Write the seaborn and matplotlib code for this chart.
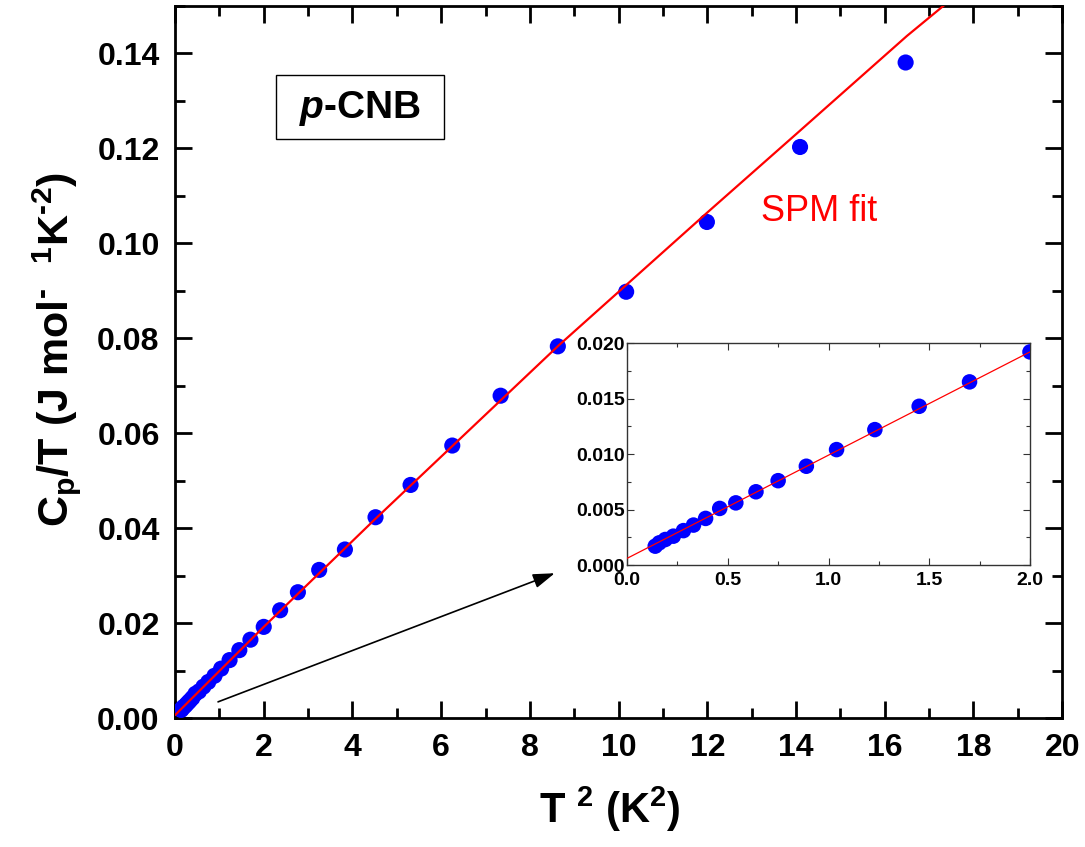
import seaborn as sns
import matplotlib
matplotlib.use("Agg")
import matplotlib.pyplot as plt
from matplotlib.ticker import MultipleLocator, FormatStrFormatter
from matplotlib.patches import Rectangle

# T^2 (K^2) and Cp/T (J mol-1 K-2)
t2 = [0.14, 0.16, 0.19, 0.23, 0.28, 0.33, 0.39, 0.46, 0.54, 0.64, 0.75, 0.89,
      1.04, 1.23, 1.45, 1.70, 2.00, 2.37, 2.77, 3.25, 3.83, 4.52, 5.31, 6.25,
      7.34, 8.63, 10.17, 11.99, 14.09, 16.47]
cp_t = [0.0017, 0.0020, 0.0023, 0.0026, 0.0031, 0.0036, 0.0042, 0.0051, 0.0056,
        0.0066, 0.0076, 0.0089, 0.0104, 0.0122, 0.0143, 0.0165, 0.0192, 0.0227,
        0.0265, 0.0312, 0.0355, 0.0423, 0.0491, 0.0574, 0.0679, 0.0783, 0.0898,
        0.1045, 0.1203, 0.1381]

# SPM fit curve
fit_x = [0.0, 2.0, 4.5, 8.65, 12.0, 14.0, 16.5, 17.5]
fit_y = [0.0006, 0.0192, 0.0418, 0.0785, 0.1065, 0.1230, 0.1437, 0.1514]

sns.set_style("ticks")
plt.rcParams['font.family'] = ['Liberation Sans', 'DejaVu Sans']
plt.rcParams['font.weight'] = 'bold'
plt.rcParams['axes.labelweight'] = 'bold'
plt.rcParams['mathtext.fontset'] = 'custom'
plt.rcParams['mathtext.rm'] = 'Liberation Sans:bold'
plt.rcParams['mathtext.bf'] = 'Liberation Sans:bold'
plt.rcParams['mathtext.it'] = 'Liberation Sans:bold:italic'
plt.rcParams['mathtext.default'] = 'bf'
for k in ['text.color', 'axes.labelcolor', 'xtick.color', 'ytick.color']:
    plt.rcParams[k] = 'black'

fig = plt.figure(figsize=(10.85, 8.47), dpi=100)
ax = fig.add_axes([0.1613, 0.1523, 0.979 - 0.1613, 0.9929 - 0.1523])

sns.scatterplot(x=t2, y=cp_t, ax=ax, color='#0000ff', s=135, edgecolor='none',
                linewidth=0, zorder=3)
sns.lineplot(x=fit_x, y=fit_y, ax=ax, color='#ff0000', lw=1.6, sort=False,
             estimator=None, zorder=4)

ax.set_xlim(0, 20)
ax.set_ylim(0, 0.15)
ax.xaxis.set_major_locator(MultipleLocator(2))
ax.xaxis.set_minor_locator(MultipleLocator(1))
ax.yaxis.set_major_locator(MultipleLocator(0.02))
ax.yaxis.set_minor_locator(MultipleLocator(0.01))
ax.yaxis.set_major_formatter(FormatStrFormatter('%.2f'))
ax.tick_params(which='both', direction='in', top=True, right=True, width=2,
               labelsize=23, pad=11, color='black', labelcolor='black')
ax.tick_params(which='major', length=12)
ax.tick_params(which='minor', length=7)
for s in ax.spines.values():
    s.set_linewidth(2)
    s.set_color('black')
for lab in ax.get_xticklabels() + ax.get_yticklabels():
    lab.set_fontweight('bold')

ax.set_xlabel(r'T $^{2}$ (K$^{2}$)', fontsize=30, fontweight='bold')
ax.set_ylabel(r'C$_{p}$/T (J mol$^{\text{-}}$  $^{1}$K$^{\text{-}2}$)', fontsize=31,
              fontweight='bold')
ax.xaxis.set_label_coords(0.49, -0.094)
ax.yaxis.set_label_coords(-0.104, 0.517)

# sample label box
ax.add_patch(Rectangle((0.114, 0.813), 0.189, 0.090, transform=ax.transAxes,
                       fill=False, edgecolor='black', lw=1, zorder=5))
ax.text(0.209, 0.856, r'$\mathit{p}$-CNB', transform=ax.transAxes, fontsize=28,
        fontweight='bold', ha='center', va='center')

ax.text(14.52, 0.1067, 'SPM fit', color='#ff0000', fontsize=26,
        fontweight='normal', ha='center', va='center')

ax.annotate('', xy=(8.56, 0.0305), xytext=(0.97, 0.0034),
            arrowprops=dict(arrowstyle='-|>,head_length=0.6,head_width=0.2',
                            color='black', lw=1.2, mutation_scale=22,
                            shrinkA=0, shrinkB=0))

# inset: low temperature region
ins = fig.add_axes([0.5779, 0.3329, 0.3714, 0.2621])
sns.scatterplot(x=t2, y=cp_t, ax=ins, color='#0000ff', s=125, edgecolor='none',
                linewidth=0, zorder=3)
sns.lineplot(x=fit_x[:2], y=fit_y[:2], ax=ins, color='#ff0000', lw=0.9,
             sort=False, estimator=None, zorder=4)
ins.set_xlim(0, 2)
ins.set_ylim(0, 0.02)
ins.xaxis.set_major_locator(MultipleLocator(0.5))
ins.xaxis.set_minor_locator(MultipleLocator(0.25))
ins.yaxis.set_major_locator(MultipleLocator(0.005))
ins.yaxis.set_minor_locator(MultipleLocator(0.0025))
ins.yaxis.set_major_formatter(FormatStrFormatter('%.3f'))
ins.xaxis.set_major_formatter(FormatStrFormatter('%.1f'))
ins.tick_params(which='both', direction='in', top=True, right=True, width=0.8,
                labelsize=14, color='#333333', labelcolor='black')
ins.tick_params(which='major', length=5)
ins.tick_params(which='minor', length=3)
ins.tick_params(axis='y', pad=1.5)
ins.tick_params(axis='x', pad=5)
for s in ins.spines.values():
    s.set_linewidth(1)
    s.set_color('#333333')
for lab in ins.get_xticklabels() + ins.get_yticklabels():
    lab.set_fontweight('bold')
ins.set_xlabel('')
ins.set_ylabel('')

fig.savefig('out.png', dpi=100)
